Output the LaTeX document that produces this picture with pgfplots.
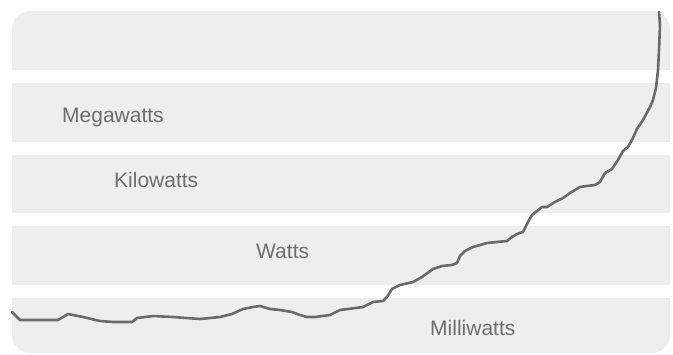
\documentclass[border=0pt]{standalone}
\usepackage{fontspec}
\setmainfont{Liberation Sans}
\usepackage{pgfplots}
\pgfplotsset{compat=1.18}
\definecolor{bandc}{HTML}{EEEEEE}
\definecolor{linec}{HTML}{6A6A6A}
\definecolor{textc}{HTML}{6E6E6E}
\pgfplotstableread{
x y
12 312
20 320
58 320
68 314
83 317
100 321
113 322
132 322
137 318
153 316
173 317
200 319
210 318
220 317
232 314
243 309
253 307
260 306
270 309
280 310
292 312
300 315
307 317
315 317
330 315
340 310
348 309
363 307
373 302
383 301
387 297
392 289
400 285
413 282
422 277
433 269
442 266
452 265
457 263
460 256
465 251
473 247
487 243
497 242
507 241
512 237
517 234
523 232
528 222
532 215
542 207
547 207
555 202
563 198
570 193
580 187
587 186
595 185
600 182
605 173
612 169
618 160
623 151
628 147
632 140
637 129
643 120
650 107
653 100
656 88
658 70
659 50
660 25
659 12
}\powerdata
\begin{document}
\begin{tikzpicture}
\path (0,0) rectangle (673pt,354pt);
\begin{scope}
\clip[rounded corners=18pt] (12pt,1pt) rectangle (670pt,343pt);
\fill[bandc] (12pt,284pt) rectangle (670pt,343pt);
\fill[bandc] (12pt,212pt) rectangle (670pt,271pt);
\fill[bandc] (12pt,141pt) rectangle (670pt,199pt);
\fill[bandc] (12pt,69pt) rectangle (670pt,128pt);
\fill[bandc] (12pt,1pt) rectangle (670pt,56pt);
\end{scope}
\begin{axis}[
  at={(0,0)}, anchor=south west,
  width=673pt, height=354pt, scale only axis,
  xmin=0, xmax=673, ymin=0, ymax=354, y dir=reverse,
  hide axis, clip=false,
]
\addplot[linec, line width=2.6pt, line join=round, line cap=round] table[x=x,y=y] {\powerdata};
\node[anchor=base west, inner sep=0pt, text=textc, font=\fontsize{21}{25}\selectfont] at (axis cs:62,122) {Megawatts};
\node[anchor=base west, inner sep=0pt, text=textc, font=\fontsize{21}{25}\selectfont] at (axis cs:114,187) {Kilowatts};
\node[anchor=base west, inner sep=0pt, text=textc, font=\fontsize{21}{25}\selectfont] at (axis cs:256,258) {Watts};
\node[anchor=base west, inner sep=0pt, text=textc, font=\fontsize{21}{25}\selectfont] at (axis cs:430,335) {Milliwatts};
\end{axis}
\end{tikzpicture}
\end{document}
